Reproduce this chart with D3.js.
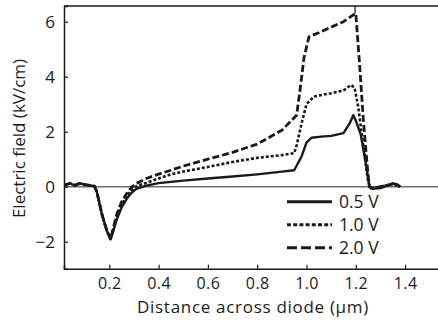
<!DOCTYPE html>
<html>
<head>
<meta charset="utf-8">
<script src="https://cdnjs.cloudflare.com/ajax/libs/d3/7.8.5/d3.min.js"></script>
<style>
  body { margin: 0; background: #fff; }
  svg text { font-family: "Open Sans", "Liberation Sans", sans-serif; fill: #1a1a1a; }
</style>
</head>
<body>
<svg id="chart"></svg>
<script>
// Data
var dist05 = [0.017, 0.04, 0.06, 0.08, 0.10, 0.12, 0.14, 0.15, 0.17, 0.19, 0.205, 0.215, 0.23, 0.25, 0.27, 0.29, 0.31, 0.35, 0.40, 0.50, 0.60, 0.70, 0.80, 0.90, 0.95, 0.98, 1.00, 1.02, 1.06, 1.10, 1.15, 1.175, 1.19, 1.20, 1.22, 1.24, 1.255, 1.27, 1.30, 1.33, 1.35, 1.37, 1.38];
var field05 = [0.05, 0.12, 0.05, 0.12, 0.08, 0.05, 0.02, -0.2, -1.0, -1.6, -1.9, -1.65, -1.2, -0.75, -0.45, -0.22, -0.08, 0.04, 0.13, 0.22, 0.3, 0.37, 0.45, 0.55, 0.6, 1.1, 1.6, 1.78, 1.82, 1.85, 1.95, 2.3, 2.6, 2.4, 1.9, 0.9, 0.0, -0.08, -0.05, 0.05, 0.12, 0.08, 0.0];

var dist10 = [0.017, 0.04, 0.06, 0.08, 0.10, 0.12, 0.14, 0.15, 0.17, 0.19, 0.205, 0.215, 0.23, 0.25, 0.27, 0.29, 0.31, 0.35, 0.40, 0.45, 0.50, 0.60, 0.70, 0.80, 0.90, 0.95, 0.96, 0.98, 1.00, 1.03, 1.10, 1.15, 1.18, 1.195, 1.21, 1.23, 1.25, 1.26, 1.30, 1.35, 1.38];
var field10 = [0.05, 0.12, 0.05, 0.12, 0.08, 0.05, 0.02, -0.2, -1.0, -1.6, -1.9, -1.6, -1.1, -0.65, -0.35, -0.12, 0.02, 0.14, 0.3, 0.45, 0.55, 0.72, 0.9, 1.05, 1.15, 1.22, 1.5, 2.3, 3.0, 3.28, 3.4, 3.5, 3.7, 3.6, 2.9, 1.5, 0.2, -0.05, 0.0, 0.1, 0.0];

var dist20 = [0.017, 0.04, 0.06, 0.08, 0.10, 0.12, 0.14, 0.15, 0.17, 0.19, 0.205, 0.215, 0.23, 0.25, 0.27, 0.29, 0.31, 0.35, 0.40, 0.45, 0.50, 0.60, 0.70, 0.80, 0.90, 0.96, 0.975, 0.99, 1.01, 1.05, 1.10, 1.15, 1.19, 1.20, 1.215, 1.23, 1.245, 1.255, 1.27, 1.30, 1.35, 1.38];
var field20 = [0.05, 0.12, 0.05, 0.12, 0.08, 0.05, 0.02, -0.2, -1.0, -1.6, -1.9, -1.55, -1.0, -0.55, -0.25, -0.02, 0.12, 0.3, 0.46, 0.6, 0.75, 1.0, 1.25, 1.55, 2.05, 2.6, 3.6, 4.7, 5.45, 5.6, 5.8, 6.0, 6.25, 6.3, 4.5, 2.5, 0.9, 0.0, -0.05, 0.0, 0.1, 0.0];

var markerDist = 1.197;
var seriesLabels = ["0.5 V", "1.0 V", "2.0 V"];
var xTicks = [0.2, 0.4, 0.6, 0.8, 1.0, 1.2, 1.4];
var yTicks = [-2, 0, 2, 4, 6];

var width = 438, height = 322;
var svg = d3.select("#chart").attr("width", width).attr("height", height);

var x = d3.scaleLinear().domain([0.0162, 1.5416]).range([64, 440]);
var y = d3.scaleLinear().domain([-2.98, 6.57]).range([268.7, 6]);

function zipUp(xs, ys) {
  return xs.map(function(d, i) { return [d, ys[i]]; });
}

var series = [
  { label: seriesLabels[0], pts: zipUp(dist05, field05), dash: null, w: 2.4, legDash: null },
  { label: seriesLabels[1], pts: zipUp(dist10, field10), dash: "3,2", w: 2.6, legDash: "4,2.2" },
  { label: seriesLabels[2], pts: zipUp(dist20, field20), dash: "7,3", w: 2.8, legDash: "10,4" }
];

// zero line
svg.append("line")
  .attr("x1", 64).attr("x2", width)
  .attr("y1", y(0)).attr("y2", y(0))
  .attr("stroke", "#6e6e6e").attr("stroke-width", 1.5);

var line = d3.line()
  .x(function(d) { return x(d[0]); })
  .y(function(d) { return y(d[1]); });

svg.selectAll(".series")
  .data(series)
  .enter()
  .append("path")
    .attr("class", "series")
    .attr("d", function(d) { return line(d.pts); })
    .attr("fill", "none")
    .attr("stroke", "#1a1a1a")
    .attr("stroke-width", function(d) { return d.w; })
    .attr("stroke-dasharray", function(d) { return d.dash; })
    .attr("stroke-linejoin", "round");

// thin marker line at the 2.0 V peak
svg.append("line")
  .attr("x1", x(markerDist)).attr("x2", x(markerDist))
  .attr("y1", y(6.57)).attr("y2", y(6.3))
  .attr("stroke", "#1a1a1a").attr("stroke-width", 1.3);

// axes
var xAxis = d3.axisBottom(x).tickValues(xTicks).tickSize(-4).tickPadding(9.4)
  .tickFormat(d3.format(".1f"));
var gx = svg.append("g")
  .attr("transform", "translate(0,268.7)")
  .call(xAxis);

var yAxis = d3.axisLeft(y).tickValues(yTicks).tickSize(-4).tickPadding(8)
  .tickFormat(function(d) { return d < 0 ? "\u2212" + Math.abs(d) : d; });
var gy = svg.append("g")
  .attr("transform", "translate(64,0)")
  .call(yAxis);

[gx, gy].forEach(function(g) {
  g.select(".domain").attr("stroke", "#1a1a1a").attr("stroke-width", 1.5);
  g.selectAll(".tick line").attr("stroke", "#1a1a1a").attr("stroke-width", 1.2);
  g.selectAll(".tick text").attr("fill", "#1a1a1a");
});
gx.selectAll(".tick text").style("font-size", "16px").style("letter-spacing", "0.4px");
gy.selectAll(".tick text").style("font-size", "17px").attr("dx", "-1");

// top frame line
svg.append("line")
  .attr("x1", 64).attr("x2", width)
  .attr("y1", 6).attr("y2", 6)
  .attr("stroke", "#1a1a1a").attr("stroke-width", 1.5);

// axis titles
svg.append("text")
  .attr("x", 253).attr("y", 312.5)
  .attr("text-anchor", "middle")
  .style("font-size", "17px")
  .style("letter-spacing", "0.7px")
  .text("Distance across diode (\u03bcm)");

svg.append("text")
  .attr("transform", "translate(25,138.5)rotate(-90)")
  .attr("text-anchor", "middle")
  .style("font-size", "17px")
  .text("Electric field (kV/cm)");

// legend
var legend = svg.selectAll(".legend")
  .data(series)
  .enter()
  .append("g")
    .attr("class", "legend")
    .attr("transform", function(d, i) { return "translate(287," + (201.7 + i * 23) + ")"; });

legend.append("line")
  .attr("x1", 0).attr("x2", 45)
  .attr("stroke", "#1a1a1a")
  .attr("stroke-width", 3)
  .attr("stroke-dasharray", function(d) { return d.legDash; });

legend.append("text")
  .attr("x", 52).attr("y", 6)
  .style("font-size", "17.5px")
  .text(function(d) { return d.label; });
</script>
</body>
</html>
